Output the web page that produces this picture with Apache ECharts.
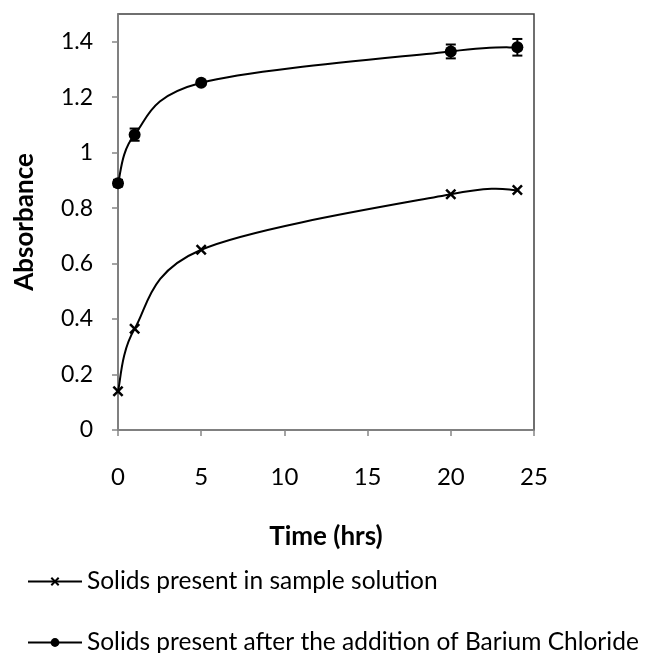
<!DOCTYPE html>
<html><head><meta charset="utf-8">
<script src="https://cdn.jsdelivr.net/npm/echarts@6/dist/echarts.min.js"></script>
<style>html,body{margin:0;padding:0;background:#fff}#c{width:646px;height:653px}</style>
</head><body><div id="c"></div>
<script>
var times = [0, 1, 5, 20, 24];
var sampleName = 'Solids present in sample solution';
var bariumName = 'Solids present after the addition of Barium Chloride';
var sampleValues = [0.14, 0.365, 0.65, 0.85, 0.865];
var bariumValues = [0.89, 1.065, 1.252, 1.365, 1.38];
var bariumErr = [0.012, 0.022, 0.008, 0.025, 0.03];
var xTicks = [0, 5, 10, 15, 20, 25];
var yTicks = [0, 0.2, 0.4, 0.6, 0.8, 1, 1.2, 1.4];

var FONT = 'Lato';
var crossPath = 'path://M0,1.6L1.6,0L5,3.4L8.4,0L10,1.6L6.6,5L10,8.4L8.4,10L5,6.6L1.6,10L0,8.4L3.4,5Z';

var chart = echarts.init(document.getElementById('c'), null, {renderer: 'canvas'});
var errData = times.map(function (t, i) { return [t, bariumValues[i] - bariumErr[i], bariumValues[i] + bariumErr[i]]; });

function legendCfg(name, top) {
  return {
    orient: 'horizontal', left: 22, top: top, itemWidth: 54, itemHeight: 11, itemGap: 0,
    data: [name],
    lineStyle: {color: '#000', width: 2, opacity: 1},
    textStyle: {fontFamily: FONT, fontSize: 24.5, color: '#000'}
  };
}

// Excel-like smoothed curve (Catmull-Rom Bezier) drawn through the axis scales
function curveSeries(values) {
  return {
    type: 'custom', z: 2, silent: true,
    data: times.map(function (t, i) { return [t, values[i]]; }),
    renderItem: function (params, api) {
      if (params.dataIndex !== 0) return null;
      var p = times.map(function (t, i) { return api.coord([t, values[i]]); });
      var n = p.length, d = 'M' + p[0][0] + ',' + p[0][1];
      for (var i = 0; i < n - 1; i++) {
        var a = p[i > 0 ? i - 1 : 0], b = p[i], c = p[i + 1], e = p[i + 2 < n ? i + 2 : n - 1];
        var c1x = b[0] + (c[0] - a[0]) / 6, c1y = b[1] + (c[1] - a[1]) / 6;
        var c2x = c[0] - (e[0] - b[0]) / 6, c2y = c[1] - (e[1] - b[1]) / 6;
        d += 'C' + c1x + ',' + c1y + ',' + c2x + ',' + c2y + ',' + c[0] + ',' + c[1];
      }
      return {type: 'path', shape: {pathData: d}, style: {stroke: '#000', lineWidth: 2, fill: null}};
    }
  };
}

chart.setOption({
  animation: false,
  grid: {left: 118, right: 112, top: 14, bottom: 223, show: true, borderColor: '#404040', borderWidth: 1.5},
  xAxis: {
    type: 'value', min: 0, max: 25, interval: 5,
    name: 'Time (hrs)', nameLocation: 'middle', nameGap: 94,
    nameTextStyle: {fontFamily: FONT, fontWeight: 'bold', fontSize: 26, color: '#000'},
    axisLine: {lineStyle: {color: '#868686', width: 1.5}},
    axisTick: {show: true, length: 6, lineStyle: {color: '#868686', width: 1.5}},
    axisLabel: {fontFamily: FONT, fontSize: 24, color: '#000', margin: 35,
      formatter: function (v) { return xTicks.indexOf(v) >= 0 ? String(v) : ''; }},
    splitLine: {show: false}
  },
  yAxis: {
    type: 'value', min: 0, max: 1.5, interval: 0.2,
    name: 'Absorbance', nameLocation: 'middle', nameGap: 80, nameRotate: 90,
    nameTextStyle: {fontFamily: FONT, fontWeight: 'bold', fontSize: 26, color: '#000'},
    axisLine: {lineStyle: {color: '#868686', width: 1.5}},
    axisTick: {show: true, length: 6, lineStyle: {color: '#868686', width: 1.5}},
    axisLabel: {fontFamily: FONT, fontSize: 23, color: '#000', margin: 25, showMaxLabel: false,
      formatter: function (v) {
        var r = Math.round(v * 10) / 10;
        return yTicks.indexOf(r) >= 0 ? String(r) : '';
      }},
    splitLine: {show: false}
  },
  legend: [legendCfg(sampleName, 564), legendCfg(bariumName, 625)],
  series: [
    {
      name: sampleName, type: 'line', z: 3,
      data: times.map(function (t, i) { return [t, sampleValues[i]]; }),
      symbol: crossPath, symbolSize: 11,
      lineStyle: {color: '#000', width: 2, opacity: 0}, itemStyle: {color: '#000'}
    },
    {
      name: bariumName, type: 'line', z: 3,
      data: times.map(function (t, i) { return [t, bariumValues[i]]; }),
      symbol: 'circle', symbolSize: 12,
      lineStyle: {color: '#000', width: 2, opacity: 0}, itemStyle: {color: '#000'}
    },
    curveSeries(sampleValues),
    curveSeries(bariumValues),
    {
      name: 'err', type: 'custom', z: 1,
      data: errData,
      renderItem: function (params, api) {
        var lo = api.coord([api.value(0), api.value(1)]);
        var hi = api.coord([api.value(0), api.value(2)]);
        var w = 5;
        var st = {stroke: '#000', lineWidth: 2};
        return {type: 'group', children: [
          {type: 'line', shape: {x1: lo[0], y1: lo[1], x2: hi[0], y2: hi[1]}, style: st},
          {type: 'line', shape: {x1: lo[0] - w, y1: lo[1], x2: lo[0] + w, y2: lo[1]}, style: st},
          {type: 'line', shape: {x1: hi[0] - w, y1: hi[1], x2: hi[0] + w, y2: hi[1]}, style: st}
        ]};
      }
    }
  ]
});
</script></body></html>
